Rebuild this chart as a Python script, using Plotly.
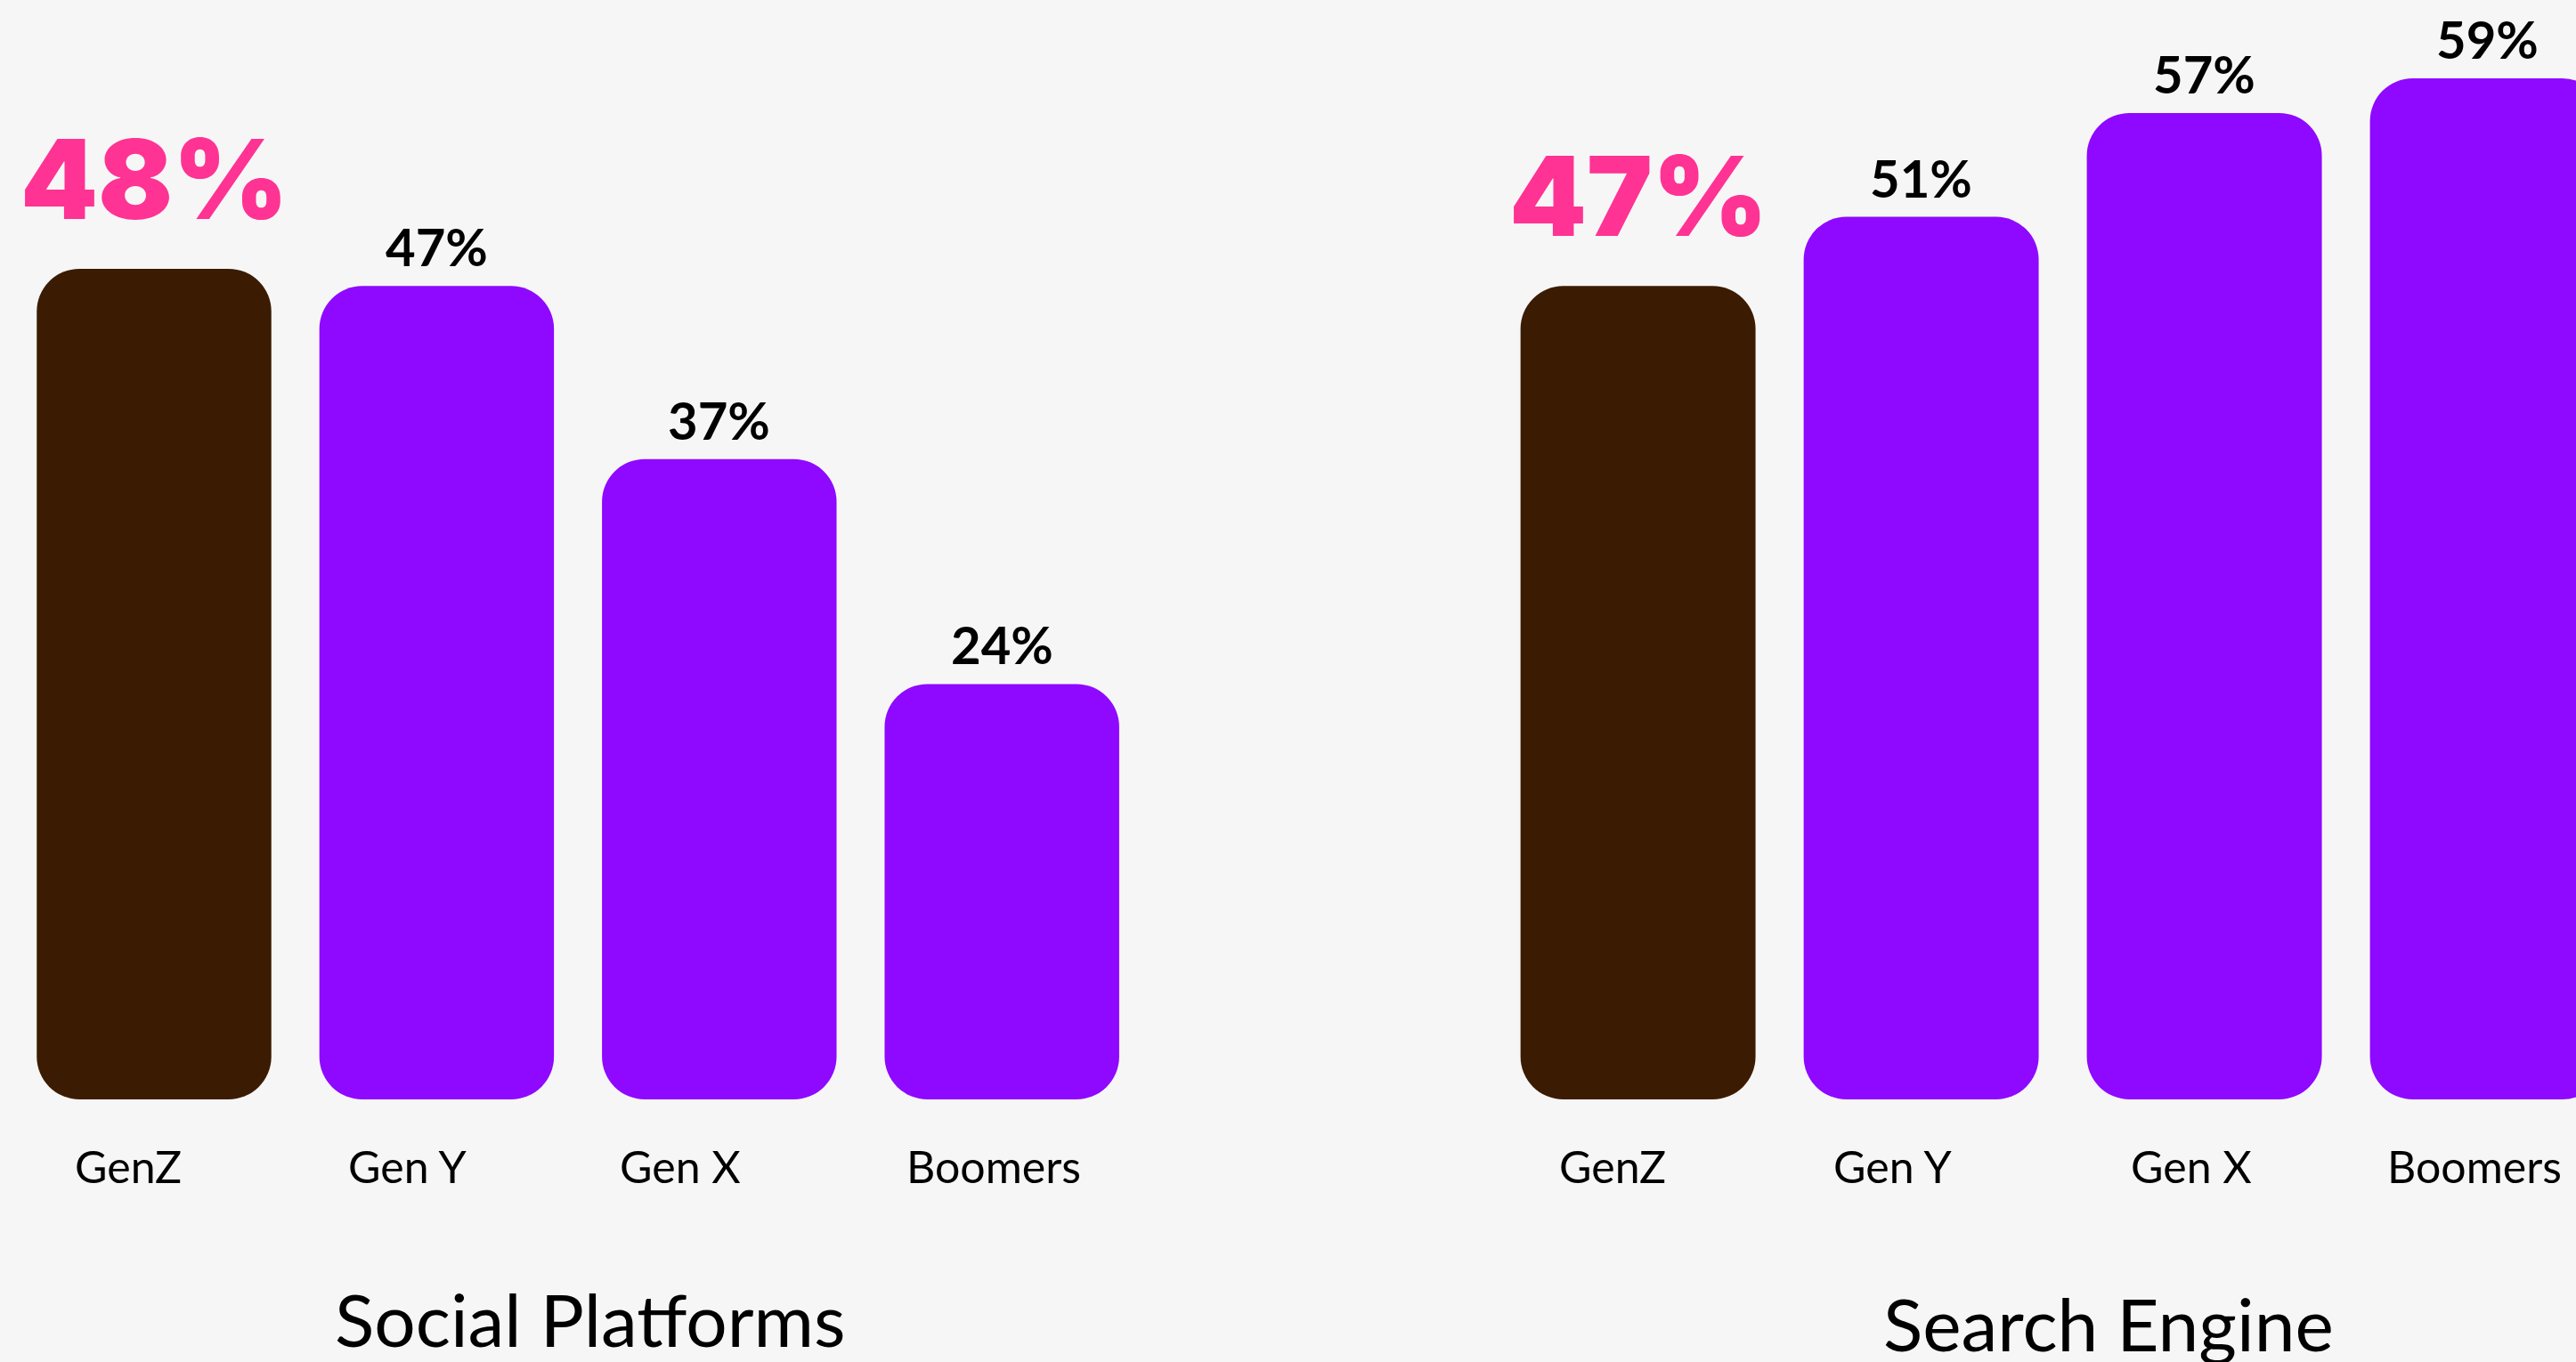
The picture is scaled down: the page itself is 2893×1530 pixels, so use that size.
import plotly.graph_objects as go

# ---- data -------------------------------------------------------------
generations = ["GenZ", "Gen Y", "Gen X", "Boomers"]
social_platforms = [48, 47, 37, 24]
search_engine = [47, 51, 57, 59]
panel_titles = ["Social Platforms", "Search Engine"]

# ---- style ------------------------------------------------------------
BG = "#f6f6f6"
BROWN = "#3b1c02"
PURPLE = "#8f08ff"
PINK = "#ff3393"
FONT = "Lato, 'Open Sans', sans-serif"
HEAVY = "Inter, Lato, sans-serif"
W, H = 2893, 1530
RADIUS = 48
BAR_WIDTH = 0.83
label_shift = [[-29, -33, -44, -9], [-29, -32, -15, -15]]

bar_colors = [BROWN, PURPLE, PURPLE, PURPLE]

panels = [
    dict(values=social_platforms, xa="x", ya="y"),
    dict(values=search_engine, xa="x2", ya="y2"),
]

fig = go.Figure()
annotations = []

for p, panel in enumerate(panels):
    vals = panel["values"]
    # one bar per generation, rounded at both ends
    fig.add_trace(go.Bar(
        x=generations, y=vals, base=[0] * len(vals),
        width=BAR_WIDTH, xaxis=panel["xa"], yaxis=panel["ya"],
        marker=dict(color=bar_colors, cornerradius=RADIUS, line_width=0),
        showlegend=False, hoverinfo="skip",
    ))

    for i, (g, v) in enumerate(zip(generations, vals)):
        if i == 0:
            font = dict(family=HEAVY, size=124, color=PINK, weight=900)
            ys = 24
        else:
            font = dict(family=FONT, size=58, color="#000000", weight=700)
            ys = 8
        annotations.append(dict(
            x=g, y=v, xref=panel["xa"], yref=panel["ya"],
            text=f"{v}%", showarrow=False, xanchor="center", yanchor="bottom",
            yshift=ys, font=font,
        ))
        annotations.append(dict(
            x=g, y=(H - 1310) / H, xref=panel["xa"], yref="paper",
            text=g, showarrow=False, xanchor="center", yanchor="middle",
            xshift=label_shift[p][i],
            font=dict(family=FONT, size=50, color="#000000"),
        ))

annotations.append(dict(
    x=663 / W, y=(H - 1481) / H, xref="paper", yref="paper",
    text=panel_titles[0], showarrow=False, xanchor="center", yanchor="middle",
    font=dict(family=FONT, size=82, color="#000000"),
))
annotations.append(dict(
    x=2368 / W, y=(H - 1486) / H, xref="paper", yref="paper",
    text=panel_titles[1], showarrow=False, xanchor="center", yanchor="middle",
    font=dict(family=FONT, size=82, color="#000000"),
))

y_zero = (H - 1235) / H
y_top = 1235 / 19.44

axis_off = dict(showgrid=False, zeroline=False, showticklabels=False,
                showline=False, ticks="", fixedrange=True)

fig.update_layout(
    width=W, height=H,
    margin=dict(l=0, r=0, t=0, b=0),
    paper_bgcolor=BG, plot_bgcolor=BG,
    barmode="overlay",
    xaxis=dict(domain=[14.3 / W, 1283.9 / W], range=[-0.5, 3.5],
               type="category", **axis_off),
    xaxis2=dict(domain=[1680.6 / W, 1.0], range=[-0.5, 3.3126],
                type="category", **axis_off),
    yaxis=dict(domain=[y_zero, 1.0], range=[0, y_top], **axis_off),
    yaxis2=dict(domain=[y_zero, 1.0], range=[0, y_top], anchor="x2", **axis_off),
    annotations=annotations,
)

fig.write_html("out.html")
